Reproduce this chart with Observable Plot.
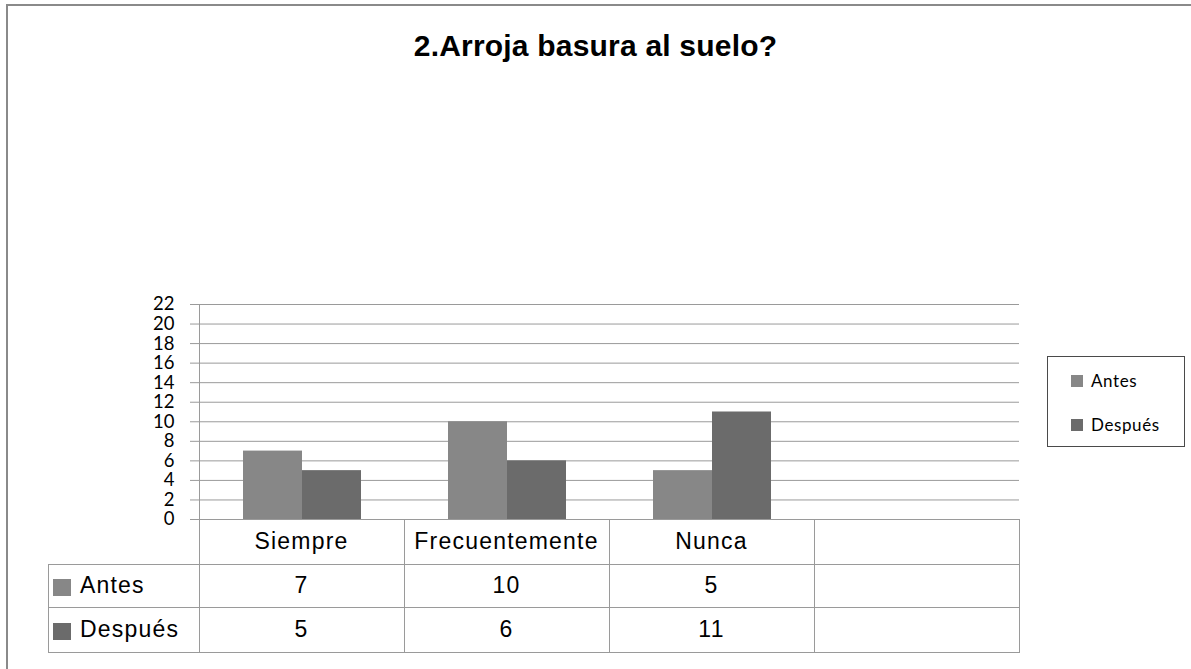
<!DOCTYPE html>
<html><head><meta charset="utf-8">
<script src="https://cdn.jsdelivr.net/npm/d3@7"></script>
<script src="https://cdn.jsdelivr.net/npm/@observablehq/plot@0.6"></script>
<style>
body{margin:0;background:#fff;}
#wrap{position:relative;width:1191px;height:669px;overflow:hidden;font-family:"Liberation Sans",Arial,sans-serif;color:#000;}
#frame{position:absolute;left:6px;top:4px;width:1300px;height:800px;border-left:2px solid #8a8a8a;border-top:2px solid #8a8a8a;}
#title{position:absolute;left:0;width:1191px;top:31px;line-height:30px;text-align:center;font-weight:bold;font-size:30px;letter-spacing:0.2px;white-space:nowrap;}
#chart{position:absolute;left:0;top:0;}
.hl{position:absolute;height:1px;background:#9a9a9a;}
.vl{position:absolute;width:1px;background:#9a9a9a;}
.cell{position:absolute;display:flex;align-items:center;justify-content:center;font-size:23px;letter-spacing:1.2px;white-space:nowrap;}
.rowlab{position:absolute;display:flex;align-items:center;font-size:23px;letter-spacing:1.2px;white-space:nowrap;}
.rowlab .sw{display:inline-block;width:18px;height:17px;margin-right:9px;margin-left:5px;position:relative;top:2px;}
#legend{position:absolute;left:1047px;top:356px;width:136px;height:89px;border:1px solid #4a4a4a;font-family:Lato,"Open Sans",sans-serif;font-size:17px;letter-spacing:0.6px;}
.li{position:absolute;left:23px;display:flex;align-items:center;}
.li .sw{display:inline-block;width:12px;height:12px;margin-right:8px;}
</style></head>
<body>
<div id="wrap">
  <div id="frame"></div>
  <div id="title"></div>
  <div id="chart"></div>
  <div id="table"></div>
  <div id="legend"></div>
</div>
<script>
const title = "2.Arroja basura al suelo?";
const categories = ["Siempre", "Frecuentemente", "Nunca", " "];
const series = ["Antes", "Después"];
const antes = [7, 10, 5, null];
const despues = [5, 6, 11, null];
const yTicks = [0, 2, 4, 6, 8, 10, 12, 14, 16, 18, 20, 22];
const colors = ["#878787", "#6b6b6b"];

document.getElementById("title").textContent = title;

const values = [antes, despues];
const rows = [];
series.forEach((s, si) => values[si].forEach((v, ci) => rows.push({cat: categories[ci], serie: s, value: v})));

const chart = Plot.plot({
  width: 1191,
  height: 530,
  marginLeft: 198,
  marginRight: 171,
  marginTop: 304,
  marginBottom: 11,
  style: {fontFamily: "Lato, 'Open Sans', sans-serif", fontSize: "18px", color: "#000", background: "transparent", overflow: "visible"},
  fx: {domain: categories, padding: 0, axis: null},
  x: {domain: series, paddingInner: 0, paddingOuter: 0.727, axis: null},
  y: {domain: [0, 22], label: null},
  color: {domain: series, range: colors},
  marks: [
    Plot.gridY(yTicks, {stroke: "#9a9a9a", strokeOpacity: 1}),
    Plot.axisY(yTicks, {tickSize: 9, tickPadding: 16, stroke: "#9a9a9a", fill: "#000", fontSize: 18.5, label: null}),
    Plot.barY(rows, {fx: "cat", x: "serie", y: "value", fill: "serie"}),
    Plot.frame({anchor: "left", facetAnchor: "left", stroke: "#9a9a9a"})
  ]
});
document.getElementById("chart").appendChild(chart);

// table below the plot, aligned on the fx scale
const fx = chart.scale("fx");
const bw = fx.bandwidth;
const colLeft = categories.map(c => fx.apply(c));
const xEnd = colLeft[colLeft.length - 1] + bw;
const x0 = colLeft[0];
const tableLeft = 48;
const rowY = [519, 564, 607, 652];
const table = document.getElementById("table");
function add(cls, style) {
  const d = document.createElement("div");
  d.className = cls;
  Object.assign(d.style, style);
  table.appendChild(d);
  return d;
}
colLeft.concat([xEnd]).forEach(x => add("vl", {left: Math.round(x) + "px", top: rowY[0] + "px", height: (rowY[3] - rowY[0] + 1) + "px"}));
add("vl", {left: tableLeft + "px", top: rowY[1] + "px", height: (rowY[3] - rowY[1] + 1) + "px"});
[rowY[1], rowY[2], rowY[3]].forEach(y => add("hl", {left: tableLeft + "px", top: y + "px", width: (xEnd - tableLeft + 1) + "px"}));
categories.forEach((c, i) => {
  const d = add("cell", {left: colLeft[i] + "px", top: rowY[0] + "px", width: bw + "px", height: (rowY[1] - rowY[0]) + "px"});
  d.textContent = c.trim();
});
series.forEach((s, si) => {
  const top = rowY[si + 1], h = rowY[si + 2] - rowY[si + 1];
  const lab = add("rowlab", {left: tableLeft + "px", top: top + "px", width: (x0 - tableLeft) + "px", height: h + "px"});
  const sw = document.createElement("span"); sw.className = "sw"; sw.style.background = colors[si];
  const tx = document.createElement("span"); tx.textContent = s;
  lab.appendChild(sw); lab.appendChild(tx);
  values[si].forEach((v, ci) => {
    const d = add("cell", {left: colLeft[ci] + "px", top: top + "px", width: bw + "px", height: h + "px"});
    d.textContent = v == null ? "" : v;
  });
});

const legend = document.getElementById("legend");
series.forEach((s, si) => {
  const li = document.createElement("div");
  li.className = "li";
  li.style.top = (si === 0 ? 13 : 57) + "px";
  const sw = document.createElement("span"); sw.className = "sw"; sw.style.background = colors[si];
  const tx = document.createElement("span"); tx.textContent = s;
  li.appendChild(sw); li.appendChild(tx);
  legend.appendChild(li);
});
</script>
</body></html>
